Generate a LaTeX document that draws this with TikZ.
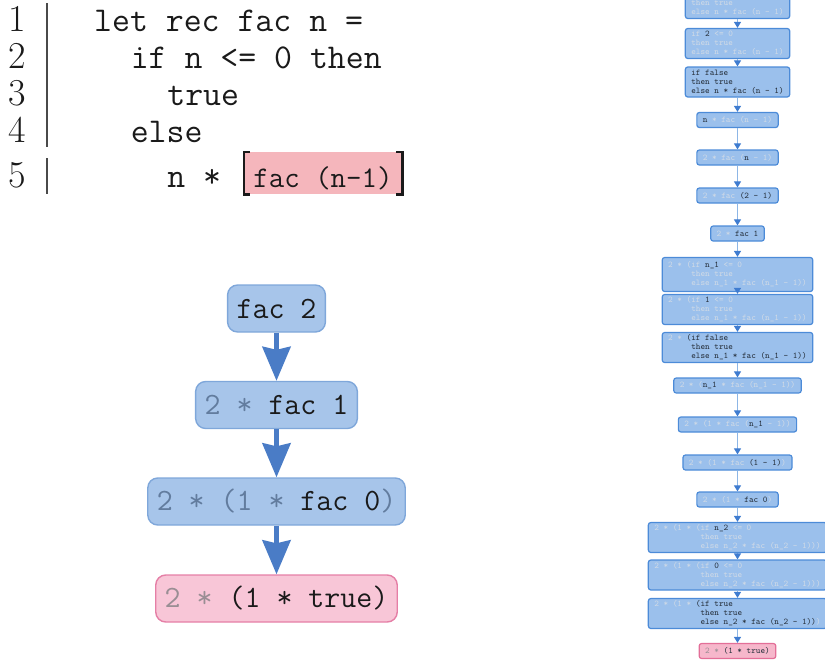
\documentclass[tikz,border=0pt]{standalone}
\usetikzlibrary{arrows.meta}
\definecolor{codeink}{HTML}{1A1A1A}
\definecolor{barink}{HTML}{4A4A4A}
\definecolor{callfill}{HTML}{F5B6BC}
\definecolor{tfill}{HTML}{A7C5EA}
\definecolor{tborder}{HTML}{7FA7DA}
\definecolor{tarrowc}{HTML}{4A7CC6}
\definecolor{tgray}{HTML}{627C9E}
\definecolor{pfill}{HTML}{F8C6D7}
\definecolor{pborder}{HTML}{E57FA6}
\definecolor{pgray}{HTML}{9A8E94}
\definecolor{rfill}{HTML}{9BC0EC}
\definecolor{rborder}{HTML}{4C8BD8}
\definecolor{rfaint}{HTML}{D0DAE6}
\definecolor{rdark}{HTML}{26303C}
\definecolor{rline}{HTML}{8DB6E6}
\definecolor{rtip}{HTML}{3F7CD0}
\definecolor{rpfill}{HTML}{F6B7CB}
\definecolor{rpborder}{HTML}{E36F98}
\newcommand\tg[1]{\textcolor{tgray}{#1}}
\newcommand\pg[1]{\textcolor{pgray}{#1}}
\newcommand\hh[1]{\textcolor{rdark}{#1}}
\newcommand\ia{\phantom{2 * (}}
\newcommand\ib{\phantom{2 * (1 * (}}
\tikzset{
  code/.style={anchor=base west, inner sep=0pt, text=codeink,
    font=\ttfamily\fontsize{34.8}{40}\selectfont},
  lnum/.style={anchor=base, inner sep=0pt, text=codeink,
    font=\rmfamily\fontsize{38}{44}\selectfont},
  callbox/.style={anchor=base, fill=callfill, inner xsep=0pt, inner ysep=0pt,
    minimum width=156pt, text height=35pt, text depth=7pt, text=codeink,
    font=\ttfamily\fontsize{30}{34}\selectfont},
  bracketline/.style={line width=2.6pt, codeink},
  tbox/.style={draw=tborder, fill=tfill, line width=1.4pt, rounded corners=10pt,
    minimum height=47pt, inner xsep=9pt, text=codeink,
    font=\ttfamily\fontsize{31}{36}\selectfont},
  tpink/.style={tbox, draw=pborder, fill=pfill},
  tarrow/.style={draw=tarrowc, line width=5pt,
    -{Stealth[length=34pt, width=28pt, inset=3pt]}},
  rbox/.style={draw=rborder, fill=rfill, line width=1.2pt, rounded corners=2.5pt,
    minimum height=15pt, inner xsep=6pt, inner ysep=2pt, align=left, text=rfaint,
    font=\ttfamily\fontsize{8.8}{9}\selectfont},
  rtall/.style={rbox, minimum height=30pt},
  rpink/.style={rbox, draw=rpborder, fill=rpfill, text=pgray},
  rarrow/.style={draw=rline, line width=1pt,
    -{Triangle[length=6pt, width=7pt, color=rtip]}},
}
\begin{document}
\begin{tikzpicture}[x=1pt, y=-1pt]
\useasboundingbox (0,0) rectangle (825,659);
% ---------- code listing ----------
\draw[line width=2pt, barink] (47,3) -- (47,147);
\draw[line width=2pt, barink] (47,158) -- (47,194);
\node[lnum] (n1) at (17,31) {1};
\node[lnum] (n2) at (17,68) {2};
\node[lnum] (n3) at (17,105) {3};
\node[lnum] (n4) at (17,142) {4};
\node[lnum] (n5) at (17,187) {5};
\node[code] (c1) at (94,31) {let rec fac n =};
\node[code] (c2) at (130.6,68) {if n <= 0 then};
\node[code] (c3) at (167.2,105) {true};
\node[code] (c4) at (130.6,142) {else};
\node[code] (c5) at (167.2,187) {n *};
\node[callbox] (call) at (323,187) {fac (n-1)};
\draw[bracketline] ([xshift=5pt]call.north west) -- ([xshift=-1pt]call.north west)
  -- ([xshift=-1pt]call.south west) -- ([xshift=5pt]call.south west);
\draw[bracketline] ([xshift=-5pt]call.north east) -- ([xshift=1pt]call.north east)
  -- ([xshift=1pt]call.south east) -- ([xshift=-5pt]call.south east);
% ---------- evaluation tree ----------
\node[tbox] (t1) at (276.5,308.5) {fac 2};
\node[tbox] (t2) at (276.5,405) {\tg{2 *} fac 1};
\node[tbox] (t3) at (276.5,501.5) {\tg{2 * (1 *} fac 0\tg{)}};
\node[tpink] (t4) at (276.5,598.5) {\pg{2 *} (1 * true)};
\draw[tarrow] (t1.south) -- (t2.north);
\draw[tarrow] (t2.south) -- (t3.north);
\draw[tarrow] (t3.south) -- (t4.north);
% ---------- full reduction column ----------
\node[rtall] (b0) at (737.5,3.5) {if \hh{n} <= 0\\then true\\else n * fac (n - 1)};
\node[rtall] (b1) at (737.5,43.5) {if \hh{2} <= 0\\then true\\else n * fac (n - 1)};
\node[rtall] (b2) at (737.5,82) {\hh{if false}\\\hh{then true}\\\hh{else n * fac (n - 1)}};
\node[rbox] (b3) at (737.5,120) {\hh{n} * fac (n - 1)};
\node[rbox] (b4) at (737.5,157.5) {2 * fac (\hh{n} - 1)};
\node[rbox] (b5) at (737.5,195.5) {2 * fac \hh{(2 - 1)}};
\node[rbox] (b6) at (737.5,233.5) {2 * \hh{fac 1}};
\node[rtall, minimum height=34pt] (b7) at (737.5,274.5) {2 * (if \hh{n\_1} <= 0\\\ia then true\\\ia else n\_1 * fac (n\_1 - 1))};
\node[rtall] (b8) at (737.5,309.5) {2 * (if \hh{1} <= 0\\\ia then true\\\ia else n\_1 * fac (n\_1 - 1))};
\node[rtall] (b9) at (737.5,347.5) {2 * \hh{(if false}\\\ia\hh{then true}\\\ia\hh{else n\_1 * fac (n\_1 - 1))}};
\node[rbox] (b10) at (737.5,385.5) {2 * (\hh{n\_1} * fac (n\_1 - 1))};
\node[rbox] (b11) at (737.5,424.5) {2 * (1 * fac (\hh{n\_1} - 1))};
\node[rbox] (b12) at (737.5,462.5) {2 * (1 * fac \hh{(1 - 1)})};
\node[rbox] (b13) at (737.5,499.5) {2 * (1 * \hh{fac 0})};
\node[rtall] (b14) at (737.5,537.5) {2 * (1 * (if \hh{n\_2} <= 0\\\ib then true\\\ib else n\_2 * fac (n\_2 - 1)))};
\node[rtall] (b15) at (737.5,575) {2 * (1 * (if \hh{0} <= 0\\\ib then true\\\ib else n\_2 * fac (n\_2 - 1)))};
\node[rtall] (b16) at (737.5,613.5) {2 * (1 * \hh{(if true}\\\ib\hh{then true}\\\ib\hh{else n\_2 * fac (n\_2 - 1))})};
\node[rpink] (b17) at (737.5,651) {2 * \hh{(1 * true)}};
\foreach \a/\b in {b0/b1,b1/b2,b2/b3,b3/b4,b4/b5,b5/b6,b6/b7,b7/b8,b8/b9,b9/b10,
  b10/b11,b11/b12,b12/b13,b13/b14,b14/b15,b15/b16,b16/b17}
  \draw[rarrow] (\a.south) -- (\b.north);
\end{tikzpicture}
\end{document}
